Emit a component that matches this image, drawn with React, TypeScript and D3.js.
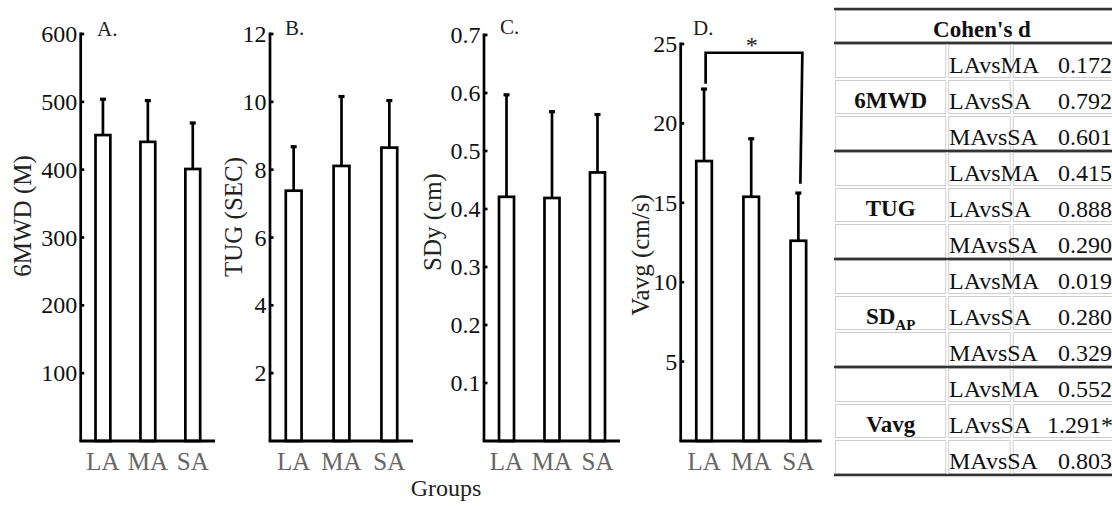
import React from "react";
import * as d3 from "d3";

const groups = ["LA", "MA", "SA"];

const mwdMean = [451, 441, 401];
const mwdSD = [53, 61, 68];
const mwdTicks = [100, 200, 300, 400, 500, 600];

const tugMean = [7.38, 8.11, 8.65];
const tugSD = [1.3, 2.05, 1.39];
const tugTicks = [2, 4, 6, 8, 10, 12];

const sdyMean = [0.421, 0.419, 0.463];
const sdySD = [0.176, 0.149, 0.1];
const sdyTicks = [0.1, 0.2, 0.3, 0.4, 0.5, 0.6, 0.7];

const vavgMean = [17.63, 15.38, 12.61];
const vavgSD = [4.54, 3.66, 3.01];
const vavgTicks = [5, 10, 15, 20, 25];

const measures = ["6MWD", "TUG", "SD", "Vavg"];
const measureSub = ["", "", "AP", ""];
const comparisons = ["LAvsMA", "LAvsSA", "MAvsSA"];
const cohenD = [
  ["0.172", "0.792", "0.601"],
  ["0.415", "0.888", "0.290"],
  ["0.019", "0.280", "0.329"],
  ["0.552", "1.291*", "0.803"],
];

const FONT = "'Liberation Serif', 'Times New Roman', serif";
const BASE_Y = 441;
const SW = 2.7;

const panels = [
  { letter: "A.", title: "6MWD (M)", means: mwdMean, sds: mwdSD, yMax: 600, ticks: mwdTicks, x0: 80.7, x1: 215, yTop: 34, titleX: 22, titleY: 216, letterX: 97, letterY: 36 },
  { letter: "B.", title: "TUG (SEC)", means: tugMean, sds: tugSD, yMax: 12, ticks: tugTicks, x0: 270, x1: 413, yTop: 34, titleX: 233, titleY: 217, letterX: 285, letterY: 35 },
  { letter: "C.", title: "SDy (cm)", means: sdyMean, sds: sdySD, yMax: 0.7, ticks: sdyTicks, x0: 484, x1: 620, yTop: 35, titleX: 432, titleY: 222, letterX: 500, letterY: 34 },
  { letter: "D.", title: "Vavg (cm/s)", means: vavgMean, sds: vavgSD, yMax: 25, ticks: vavgTicks, x0: 680.7, x1: 821.7, yTop: 44, titleX: 640, titleY: 255, letterX: 693, letterY: 35 },
];

function Panel({ p, idx }: { p: any; idx: number }) {
  const y = d3.scaleLinear().domain([0, p.yMax]).range([BASE_Y, p.yTop]);
  const x = d3.scaleBand().domain(groups).range([p.x0, p.x1]).paddingInner(0.67).paddingOuter(0.33);
  const bw = x.bandwidth();
  return (
    <g>
      {groups.map((g, i) => {
        const cx = (x(g) as number) + bw / 2;
        const top = y(p.means[i]);
        const errTop = y(p.means[i] + p.sds[i]);
        return (
          <g key={g}>
            <line x1={cx} x2={cx} y1={top} y2={errTop} stroke="#000" strokeWidth={SW} />
            <rect x={cx - 3} y={errTop - 1.5} width={6} height={3.2} fill="#000" />
            <rect x={x(g) as number} y={top} width={bw} height={BASE_Y - top} fill="#fff" stroke="#000" strokeWidth={SW} />
          </g>
        );
      })}
      <line x1={p.x0} x2={p.x0} y1={p.yTop - 1.5} y2={BASE_Y} stroke="#000" strokeWidth={SW} />
      {p.ticks.map((t: number) => (
        <g key={t}>
          <line x1={p.x0} x2={p.x0 + 3.5} y1={y(t)} y2={y(t)} stroke="#000" strokeWidth={SW} />
          <text x={p.x0 - 3.5} y={y(t)} textAnchor="end" dominantBaseline="central" fontSize={24} fontFamily={FONT} fill="#111">
            {String(t)}
          </text>
        </g>
      ))}
      <line x1={p.x0 - 1.3} x2={p.x1} y1={BASE_Y} y2={BASE_Y} stroke="#000" strokeWidth={3} />
      {groups.map((g) => (
        <text key={g} x={(x(g) as number) + bw / 2} y={469.5} textAnchor="middle" fontSize={25} fontFamily={FONT} fill="#666">
          {g}
        </text>
      ))}
      <text
        transform={`translate(${p.titleX},${p.titleY}) rotate(-90)`}
        textAnchor="middle"
        dominantBaseline="central"
        fontSize={25}
        fontFamily={FONT}
        fill="#222"
      >
        {p.title}
      </text>
      <text x={p.letterX} y={p.letterY} fontSize={21} fontFamily={FONT} fill="#222">
        {p.letter}
      </text>
      {idx === 3 && (() => {
        const cLA = (x("LA") as number) + bw / 2;
        const cSA = (x("SA") as number) + bw / 2;
        const yb = y(24.45);
        return (
          <g>
            <path
              d={`M${cLA + 1.6},${y(22.5)} L${cLA + 1.6},${yb} L${cSA + 4},${yb} L${cSA + 2},${y(16.2)}`}
              fill="none"
              stroke="#000"
              strokeWidth={SW}
            />
            <text x={(cLA + cSA) / 2 + 0.5} y={53} textAnchor="middle" fontSize={24} fontFamily={FONT} fill="#222">
              *
            </text>
          </g>
        );
      })()}
    </g>
  );
}

function CohenTable() {
  const left = 834;
  const cols = [834, 947.3, 1011.7, 1140];
  const top = 9;
  const headH = 34;
  const rowH = 36;
  const nRows = measures.length * comparisons.length;
  const cells: any[] = [];
  cells.push(
    <rect key="head" x={left + 1.5} y={top + 1.5} width={cols[3] - left - 3} height={headH - 3} fill="#fff" stroke="#cfcfcf" strokeWidth={1} />
  );
  for (let r = 0; r < nRows; r++) {
    const ry = top + headH + r * rowH;
    for (let c = 0; c < 3; c++) {
      cells.push(
        <rect key={`c${r}-${c}`} x={cols[c] + 1.5} y={ry + 1.5} width={cols[c + 1] - cols[c] - 3} height={rowH - 3} fill="#fff" stroke="#cfcfcf" strokeWidth={1} />
      );
    }
  }
  const thick = [top, top + headH];
  measures.forEach((_, m) => thick.push(top + headH + (m + 1) * comparisons.length * rowH));
  return (
    <g fontFamily={FONT}>
      {cells}
      {thick.map((ty, i) => (
        <line key={i} x1={left} x2={1112} y1={ty} y2={ty} stroke="#333" strokeWidth={2.3} />
      ))}
      <text x={982} y={top + 27.5} textAnchor="middle" fontSize={23} fontWeight="bold" fill="#111">
        Cohen's d
      </text>
      {measures.map((mname, m) => {
        const gy = top + headH + (m * comparisons.length + 1) * rowH;
        return (
          <g key={mname}>
            <text x={(cols[0] + cols[1]) / 2} y={gy + 28.5} textAnchor="middle" fontSize={23} fontWeight="bold" fill="#111">
              {mname}
              {measureSub[m] && (
                <tspan fontSize={15} dy={6.5}>
                  {measureSub[m]}
                </tspan>
              )}
            </text>
            {comparisons.map((cmp, k) => {
              const ry = top + headH + (m * comparisons.length + k) * rowH;
              const val = cohenD[m][k];
              return (
                <g key={cmp}>
                  <text x={949} y={ry + 29.5} fontSize={24} fill="#111">
                    {cmp}
                  </text>
                  <text x={val.endsWith("*") ? 1047 : 1058} y={ry + 29.5} fontSize={24} fill="#111">
                    {val}
                  </text>
                </g>
              );
            })}
          </g>
        );
      })}
    </g>
  );
}

export default function App() {
  return (
    <svg
      width={1112}
      height={508}
      viewBox="0 0 1112 508"
      style={{ position: "absolute", left: 0, top: 0, background: "#fff" }}
    >
      <rect x={0} y={0} width={1112} height={508} fill="#fff" />
      {panels.map((p, i) => (
        <Panel key={i} p={p} idx={i} />
      ))}
      <text x={446} y={496} textAnchor="middle" fontSize={24} fontFamily={FONT} fill="#222">
        Groups
      </text>
      <CohenTable />
    </svg>
  );
}
